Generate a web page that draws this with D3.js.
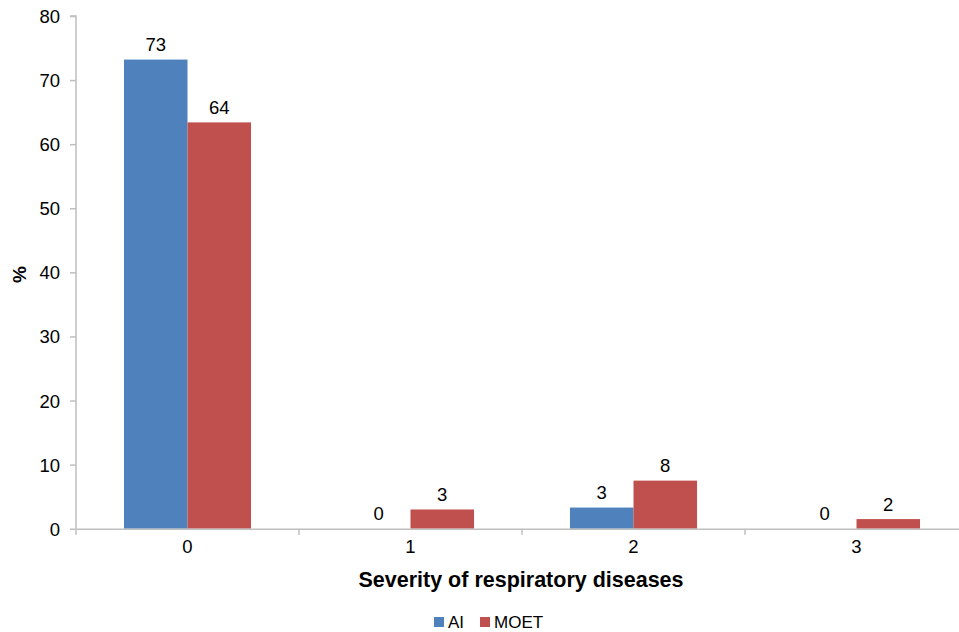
<!DOCTYPE html>
<html><head><meta charset="utf-8">
<script src="https://cdn.jsdelivr.net/npm/d3@7"></script>
<style>body{margin:0;background:#fff;} svg{display:block;font-family:Arial,"Liberation Sans",sans-serif;}</style>
</head><body>
<svg id="c" width="959" height="632"></svg>
<script>
const categories = ["0","1","2","3"];
const seriesNames = ["AI","MOET"];
const aiValues = [73.2, 0, 3.3, 0];
const moetValues = [63.4, 3.0, 7.5, 1.5];
const aiLabels = ["73","0","3","0"];
const moetLabels = ["64","3","8","2"];
const yTicks = [0,10,20,30,40,50,60,70,80];
const colors = ["#4F81BD","#C0504D"];

const FONT = "Arial,'Liberation Sans',sans-serif";
const svg = d3.select("#c");
const x0 = 76, x1 = 968, yTop = 16, yBot = 528.7;
const x = d3.scaleBand().domain(categories).range([x0, x1]).paddingInner(0).paddingOuter(0);
const inner = d3.scaleBand().domain(seriesNames).range([0, x.bandwidth()]).paddingOuter(0.755).paddingInner(0);
const y = d3.scaleLinear().domain([0,80]).range([yBot, yTop]);

const series = [
  {name:"AI", values: aiValues, labels: aiLabels, color: colors[0]},
  {name:"MOET", values: moetValues, labels: moetLabels, color: colors[1]}
];

const g = svg.append("g");
series.forEach(s => {
  categories.forEach((c,i) => {
    const bx = x(c) + inner(s.name);
    g.append("rect").attr("x", bx).attr("width", inner.bandwidth())
      .attr("y", y(s.values[i])).attr("height", y(0) - y(s.values[i]))
      .attr("fill", s.color);
    g.append("text").attr("x", bx + inner.bandwidth()/2).attr("y", y(s.values[i]) - 8.5)
      .attr("text-anchor","middle").attr("font-size", 18.5).attr("fill","#000").text(s.labels[i]);
  });
});

// y axis
const yAxis = d3.axisLeft(y).tickValues(yTicks).tickSize(6).tickPadding(10);
const ya = svg.append("g").attr("transform", `translate(${x0},0)`).call(yAxis);
ya.select(".domain").attr("stroke","#bfbfbf").attr("stroke-width",1.5).attr("d", `M-6,${yTop}H0V${yBot}`);
ya.selectAll(".tick line").attr("stroke","#bfbfbf").attr("stroke-width",1.5);
ya.selectAll(".tick text").attr("font-size",18.5).attr("fill","#000").attr("font-family",FONT).attr("dy","0.35em");

// x axis
const xAxis = d3.axisBottom(x).tickSize(0).tickPadding(11);
const xa = svg.append("g").attr("transform", `translate(0,${yBot})`).call(xAxis);
xa.select(".domain").attr("stroke","#bfbfbf").attr("stroke-width",1.5);
xa.selectAll(".tick text").attr("font-size",18.5).attr("fill","#000").attr("font-family",FONT);
categories.forEach(c => {
  xa.append("line").attr("x1", x(c)).attr("x2", x(c)).attr("y1",0).attr("y2",6).attr("stroke","#bfbfbf").attr("stroke-width",1.5);
});

// axis titles
svg.append("text").attr("x", 521).attr("y", 587).attr("text-anchor","middle")
  .attr("font-size",21.5).attr("font-weight","bold").text("Severity of respiratory diseases");
svg.append("text").attr("transform","translate(26,274.5) rotate(-90)").attr("text-anchor","middle")
  .attr("font-size",19).attr("font-weight","bold").text("%");

// legend
const leg = svg.append("g").attr("transform","translate(434,622)");
series.forEach((s,i) => {
  const gi = leg.append("g").attr("transform", `translate(${i===0?0:46},0)`);
  gi.append("rect").attr("x",0).attr("y",-5).attr("width",10).attr("height",10).attr("fill", s.color);
  gi.append("text").attr("x",14).attr("y",0).attr("dy","0.35em").attr("font-size",17).text(s.name);
});
</script>
</body></html>
